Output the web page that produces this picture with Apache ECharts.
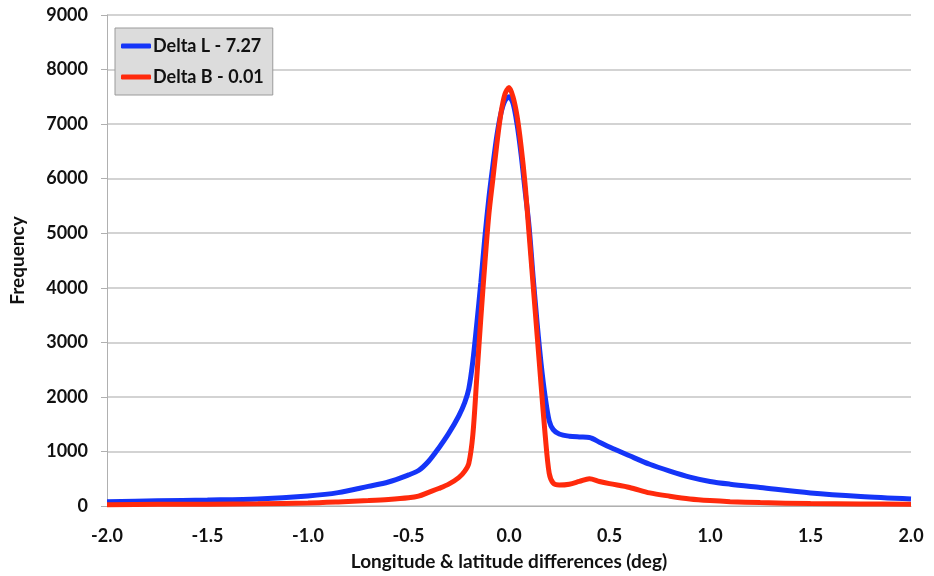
<!DOCTYPE html>
<html>
<head>
<meta charset="utf-8">
<script src="https://cdn.jsdelivr.net/npm/echarts@6/dist/echarts.min.js"></script>
<style>
  html, body { margin: 0; padding: 0; background: #fff; }
  #chart { width: 934px; height: 576px; }
</style>
</head>
<body>
<div id="chart"></div>
<script>
// Differences in degrees (shared sample positions for both curves)
const offsets = [-2.0, -1.75, -1.5, -1.25, -1.0, -0.85, -0.7, -0.6, -0.5, -0.45, -0.4, -0.35, -0.3, -0.25, -0.22, -0.2,
  -0.18, -0.16, -0.14, -0.12, -0.1, -0.08, -0.06, -0.04, -0.02, 0, 0.02, 0.04, 0.06, 0.08, 0.1, 0.12, 0.14, 0.16,
  0.18, 0.2, 0.22, 0.25, 0.3, 0.35, 0.4, 0.45, 0.5, 0.6, 0.7, 0.8, 0.9, 1.0, 1.1, 1.25, 1.5, 1.75, 2.0];

// Longitude differences (Delta L)
const deltaL = [80, 95, 110, 130, 185, 245, 360, 440, 570, 650, 820, 1060, 1330, 1650, 1900, 2150,
  2650, 3350, 4100, 4930, 5650, 6250, 6800, 7200, 7430, 7500, 7380, 7000, 6450, 5780, 5120, 4200, 3350, 2600,
  2000, 1560, 1400, 1320, 1280, 1265, 1255, 1170, 1080, 920, 765, 640, 530, 450, 400, 340, 240, 175, 130];

// Latitude differences (Delta B)
const deltaB = [25, 30, 33, 40, 55, 75, 100, 120, 150, 180, 250, 320, 400, 520, 640, 780,
  1300, 2370, 3450, 4450, 5350, 6000, 6650, 7200, 7550, 7670, 7500, 7150, 6600, 5900, 4980, 4050, 3130, 2200,
  1300, 600, 420, 385, 400, 450, 500, 450, 410, 340, 240, 180, 130, 100, 80, 62, 45, 38, 30];

const seriesNames = ['Delta L - 7.27', 'Delta B - 0.01'];
const xTitle = 'Longitude & latitude differences (deg)';
const yTitle = 'Frequency';

const font = 'Lato, "Open Sans", sans-serif';
const pair = (ys) => offsets.map((x, i) => [x, ys[i]]);

const chart = echarts.init(document.getElementById('chart'), null, { renderer: 'canvas' });
chart.setOption({
  animation: false,
  backgroundColor: '#ffffff',
  grid: { left: 100, right: 23, top: 15, bottom: 70, containLabel: false },
  legend: {
    left: 115, top: 28,
    orient: 'vertical',
    itemWidth: 30, itemHeight: 5, itemGap: 13,
    backgroundColor: '#dcdcdc',
    borderColor: '#9a9a9a', borderWidth: 1,
    padding: [9, 9, 9, 6],
    icon: 'roundRect',
    textStyle: { fontFamily: font, fontWeight: 'bold', fontSize: 18, color: '#111', padding: [0, 0, 0, -3] },
    data: seriesNames
  },
  xAxis: {
    type: 'value', min: -2, max: 2, interval: 0.5,
    name: xTitle, nameLocation: 'middle', nameGap: 46,
    nameTextStyle: { fontFamily: font, fontWeight: 'bold', fontSize: 19, color: '#111' },
    axisLine: { show: true, onZero: false, lineStyle: { color: '#b0b0b0', width: 1 } },
    axisTick: { show: false },
    splitLine: { show: false },
    axisLabel: { fontFamily: font, fontWeight: 'bold', fontSize: 18, color: '#111', margin: 21,
      formatter: v => v.toFixed(1) }
  },
  yAxis: {
    type: 'value', min: 0, max: 9000, interval: 1000,
    name: yTitle, nameLocation: 'middle', nameGap: 80, nameRotate: 90,
    nameTextStyle: { fontFamily: font, fontWeight: 'bold', fontSize: 19, color: '#111' },
    axisLine: { show: true, onZero: false, lineStyle: { color: '#b0b0b0', width: 1 } },
    axisTick: { show: true, length: 6, lineStyle: { color: '#b0b0b0' } },
    splitLine: { show: true, lineStyle: { color: '#c4c4c4', width: 1.5 } },
    axisLabel: { fontFamily: font, fontWeight: 'bold', fontSize: 18, color: '#111', margin: 19,
      formatter: v => String(v) }
  },
  series: [
    {
      name: seriesNames[0], type: 'line', data: pair(deltaL),
      smooth: 0.3, showSymbol: false, symbol: 'none',
      lineStyle: { color: '#1535f8', width: 5 }, itemStyle: { color: '#1535f8' }
    },
    {
      name: seriesNames[1], type: 'line', data: pair(deltaB),
      smooth: 0.3, showSymbol: false, symbol: 'none',
      lineStyle: { color: '#ff2a0c', width: 5 }, itemStyle: { color: '#ff2a0c' }
    }
  ]
});
</script>
</body>
</html>
